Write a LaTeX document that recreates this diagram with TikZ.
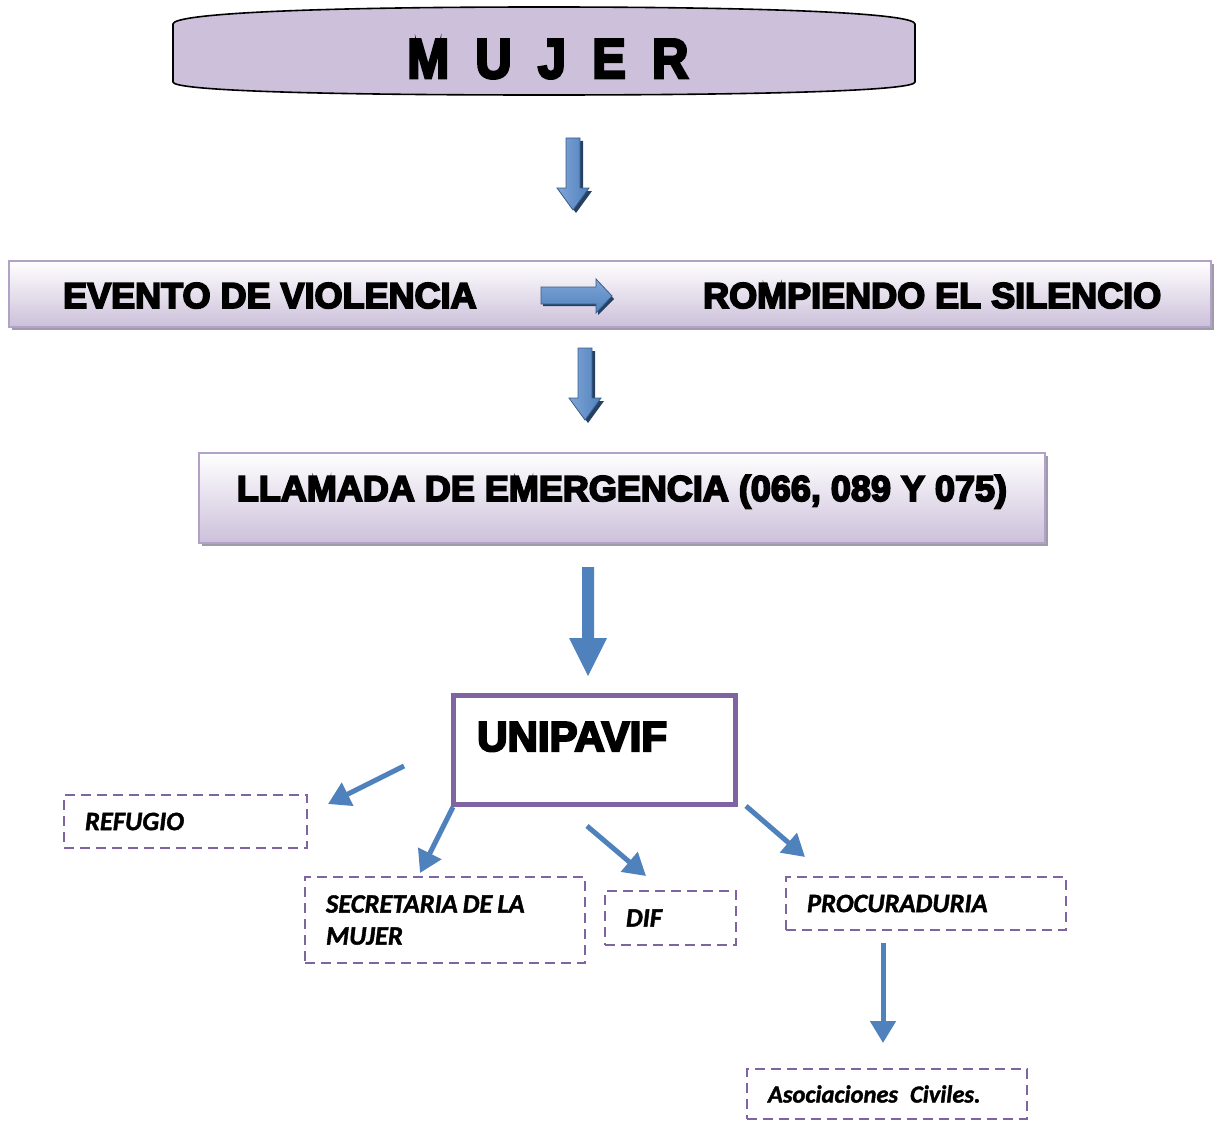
\documentclass[tikz,border=0pt]{standalone}
\usepackage{fontspec}
\setmainfont{Liberation Sans}[BoldFeatures={FakeBold=5}]
\newfontfamily\cali{Carlito}[BoldItalicFeatures={FakeBold=1.5}]
\usetikzlibrary{arrows.meta,shadows}
\definecolor{lav}{RGB}{204,192,218}
\definecolor{lavborder}{RGB}{179,162,199}
\definecolor{shadowc}{RGB}{160,154,170}
\definecolor{bluec}{RGB}{79,129,189}
\definecolor{bluelight}{RGB}{128,165,214}
\definecolor{bluedark}{RGB}{56,93,138}
\definecolor{blueshadow}{RGB}{37,64,97}
\definecolor{purplec}{RGB}{128,100,162}
\begin{document}
\begin{tikzpicture}[x=1pt,y=-1pt,
  hbox/.style={draw=lavborder, line width=2pt, top color=white, bottom color=lav,
    drop shadow={shadow xshift=3pt, shadow yshift=-3pt, fill=shadowc, opacity=1}},
  headtxt/.style={inner sep=0pt, font=\fontsize{36}{40}\selectfont\bfseries},
  dbox/.style={draw=purplec, line width=2.8pt, dash pattern=on 10pt off 6pt,
    align=left, inner xsep=21pt, inner ysep=0pt,
    font=\cali\bfseries\itshape\fontsize{26.5}{32}\selectfont},
  thinarrow/.style={draw=bluec, line width=5pt, -{Triangle[length=22pt,width=25pt]}},
  blockarrow/.style={draw=bluedark, line width=0.8pt, left color=bluelight, right color=bluec},
  blockshadow/.style={fill=blueshadow}
]
\useasboundingbox (0,0) rectangle (1215,1121);

% MUJER box
\draw[fill=lav, line width=1.6pt] (173,82) -- (173,24) .. controls (173,14) and (300,7) .. (544,7)
  .. controls (788,7) and (915,14) .. (915,24) -- (915,82)
  .. controls (915,90) and (788,95) .. (544,95) .. controls (300,95) and (173,90) .. (173,82) -- cycle;
\node[inner sep=0pt, anchor=base west, font=\fontsize{56}{60}\selectfont\bfseries] (mujer) at (407,78)
  {\scalebox{0.9}[1]{M\hspace{0.52em}U\hspace{0.52em}J\hspace{0.52em}E\hspace{0.52em}R}};

% block arrow 1
\fill[blockshadow] (569,141) -- (583,141) -- (583,191) -- (592,191) -- (576,213) -- (560,191) -- (569,191) -- cycle;
\path[blockarrow] (566,138) -- (580,138) -- (580,188) -- (589,188) -- (573,210) -- (557,188) -- (566,188) -- cycle;

% evento box
\node[hbox, minimum width=1202pt, minimum height=66pt, inner sep=0pt] (evbox) at (610,294) {};
\node[headtxt, anchor=base west] (evento) at (63,308) {EVENTO DE VIOLENCIA};
\node[headtxt, anchor=base west] (rompiendo) at (703,308) {ROMPIENDO EL SILENCIO};
\fill[blockshadow] (543,290) -- (598,290) -- (598,282) -- (614,299) -- (598,315) -- (598,306) -- (543,306) -- cycle;
\path[draw=bluedark, line width=0.8pt, top color=bluelight, bottom color=bluec]
  (541,287) -- (596,287) -- (596,279) -- (612,296) -- (596,313) -- (596,304) -- (541,304) -- cycle;

% block arrow 2
\fill[blockshadow] (581,351) -- (595,351) -- (595,401) -- (604,401) -- (588,423) -- (572,401) -- (581,401) -- cycle;
\path[blockarrow] (578,348) -- (592,348) -- (592,398) -- (601,398) -- (585,420) -- (569,398) -- (578,398) -- cycle;

% llamada box
\node[hbox, minimum width=846pt, minimum height=90pt, inner sep=0pt] (llbox) at (622,498) {};
\node[headtxt, anchor=base] (llamada) at (622,501) {LLAMADA DE EMERGENCIA (066, 089 Y 075)};

% big arrow
\fill[bluec] (582,567) -- (594,567) -- (594,638) -- (607,638) -- (588,676) -- (569,638) -- (582,638) -- cycle;

% UNIPAVIF
\node[draw=purplec, line width=5.5pt, minimum width=282pt, minimum height=109pt, inner sep=0pt] (uni) at (594.5,750) {};
\node[inner sep=0pt, anchor=base west, font=\fontsize{42}{46}\selectfont\bfseries] (unitxt) at (477,751) {UNIPAVIF};

% dashed boxes
\node[dbox, minimum width=243pt, minimum height=53pt, text width=201pt] (ref) at (185.5,821.5) {REFUGIO};
\node[dbox, minimum width=280pt, minimum height=86pt, text width=238pt] (sec) at (445,920) {SECRETARIA\hspace{5pt}DE\hspace{5pt}LA\\MUJER};
\node[dbox, minimum width=131pt, minimum height=54pt, text width=89pt] (dif) at (670.5,918) {DIF};
\node[dbox, minimum width=280pt, minimum height=53pt, text width=238pt] (pro) at (926,903.5) {PROCURADURIA};
\node[dbox, minimum width=280pt, minimum height=50pt, text width=238pt, font=\cali\bfseries\itshape\fontsize{24.5}{30}\selectfont] (aso) at (887,1094) {Asociaciones\hspace{12pt}Civiles.};

% thin arrows
\coordinate (r1) at (404,766); \coordinate (r2) at (328,804);
\coordinate (s1) at (453,807); \coordinate (s2) at (420,873);
\coordinate (d1) at (587,826); \coordinate (d2) at (646,876);
\coordinate (p1) at (746,806); \coordinate (p2) at (805,857);
\coordinate (q1) at (883,943); \coordinate (q2) at (883,1043);
\draw[thinarrow] (r1) -- (r2);
\draw[thinarrow] (s1) -- (s2);
\draw[thinarrow] (d1) -- (d2);
\draw[thinarrow] (p1) -- (p2);
\draw[thinarrow] (q1) -- (q2);
\end{tikzpicture}
\end{document}
